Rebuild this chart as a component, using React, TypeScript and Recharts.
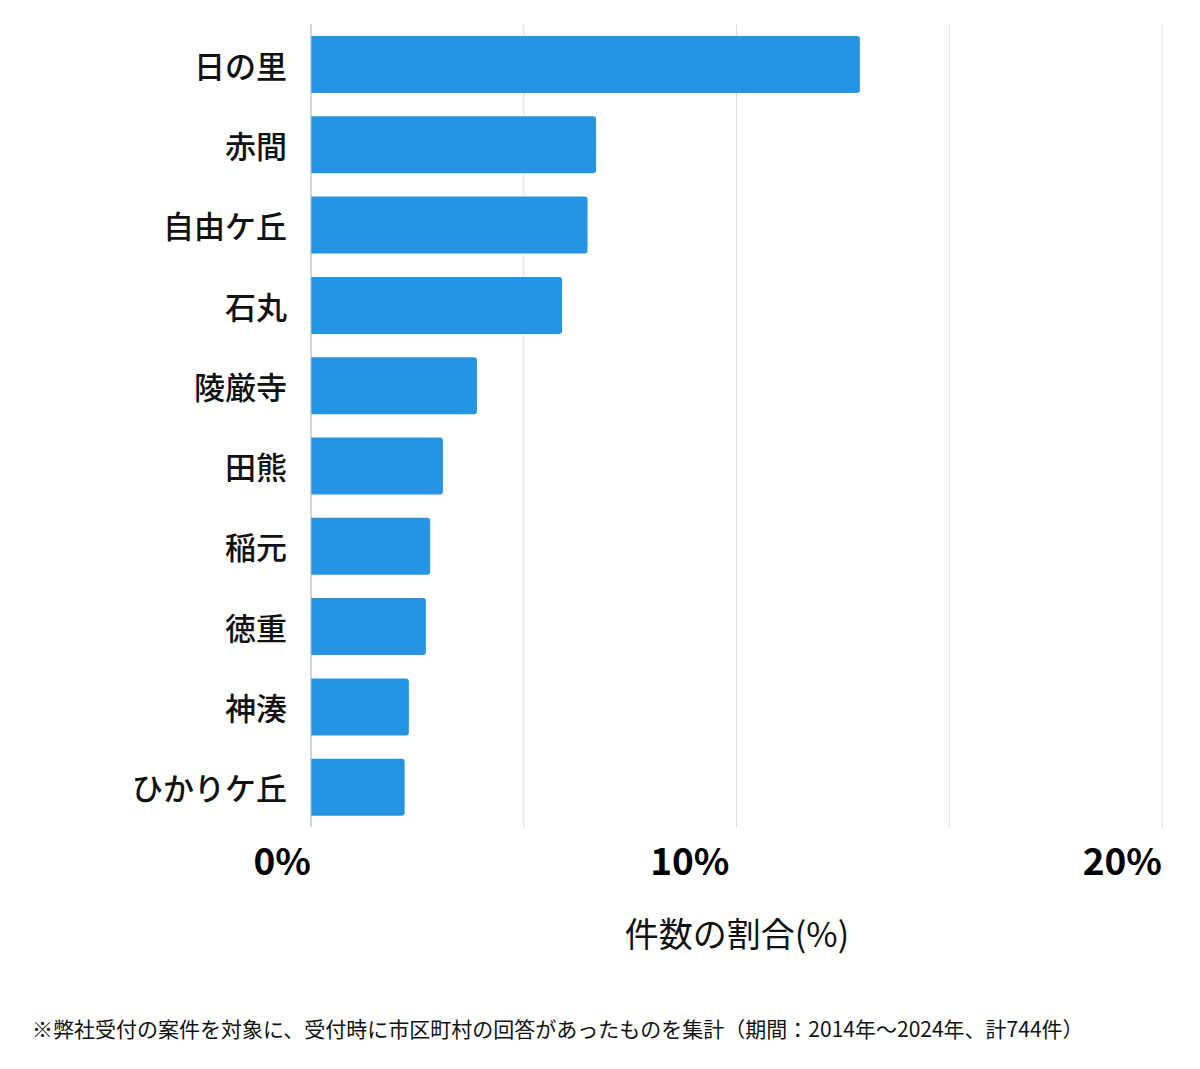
import { BarChart, Bar, XAxis, YAxis, CartesianGrid } from 'recharts';

const areas = [
  '日の里',
  '赤間',
  '自由ケ丘',
  '石丸',
  '陵厳寺',
  '田熊',
  '稲元',
  '徳重',
  '神湊',
  'ひかりケ丘',
];

const shares = [12.9, 6.7, 6.5, 5.9, 3.9, 3.1, 2.8, 2.7, 2.3, 2.2];

const xTicks = [0, 5, 10, 15, 20];
const labeledTicks = [0, 10, 20];

const axisTitle = '件数の割合(%)';
const footnote =
  '※弊社受付の案件を対象に、受付時に市区町村の回答があったものを集計（期間：2014年〜2024年、計744件）';

const FONT = '"Noto Sans CJK JP", "Noto Sans", sans-serif';

const data = areas.map((name, i) => ({ name, value: shares[i] }));

function CategoryTick({ x, y, payload }: any) {
  return (
    <text
      x={x - 16}
      y={y}
      textAnchor="end"
      dominantBaseline="central"
      fontSize={31}
      fontWeight={500}
      fontFamily={FONT}
      fill="#111"
    >
      {payload.value}
    </text>
  );
}

function PercentTick({ x, y, payload }: any) {
  if (!labeledTicks.includes(payload.value)) return null;
  const shift = payload.value === 10 ? -7 : 0;
  return (
    <text
      x={x + shift}
      y={y + 42}
      textAnchor="end"
      fontSize={37}
      fontWeight={700}
      fontFamily={FONT}
      fill="#000"
    >
      {`${payload.value}%`}
    </text>
  );
}

export default function App() {
  return (
    <div
      style={{
        position: 'absolute',
        left: 0,
        top: 0,
        width: 1200,
        height: 1069,
        background: '#fff',
        fontFamily: FONT,
      }}
    >
      <BarChart
        width={1200}
        height={1069}
        data={data}
        layout="vertical"
        margin={{ top: 24, right: 38, left: 0, bottom: 182 }}
        barCategoryGap={23}
      >
        <CartesianGrid horizontal={false} stroke="#dddddd" />
        <XAxis
          type="number"
          domain={[0, 20]}
          ticks={xTicks}
          axisLine={false}
          tickLine={false}
          tickMargin={0}
          height={60}
          tick={<PercentTick />}
          interval={0}
        />
        <YAxis
          type="category"
          dataKey="name"
          width={311}
          axisLine={{ stroke: '#bbbbbb' }}
          tickLine={false}
          tick={<CategoryTick />}
          interval={0}
        />
        <Bar
          dataKey="value"
          fill="#2594e3"
          barSize={57}
          radius={[0, 3, 3, 0]}
          isAnimationActive={false}
        />
      </BarChart>
      <div
        style={{
          position: 'absolute',
          left: 737,
          top: 910,
          transform: 'translateX(-50%)',
          fontSize: 34,
          lineHeight: '46px',
          whiteSpace: 'nowrap',
          color: '#111',
        }}
      >
        {axisTitle}
      </div>
      <div
        style={{
          position: 'absolute',
          left: 32,
          top: 1013,
          fontSize: 21,
          lineHeight: '30px',
          whiteSpace: 'nowrap',
          color: '#111',
        }}
      >
        {footnote}
      </div>
    </div>
  );
}
